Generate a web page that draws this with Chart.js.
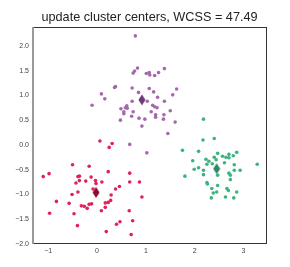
<!DOCTYPE html>
<html><head><meta charset="utf-8">
<script src="https://cdn.jsdelivr.net/npm/chart.js@4/dist/chart.umd.min.js"></script>
<style>html,body{margin:0;padding:0;background:#fff;}#wrap{width:290px;height:267px;}</style>
</head><body><div id="wrap"><canvas id="c" width="290" height="267"></canvas></div>
<script>
const titleText = "update cluster centers, WCSS = 47.49";
const xTicks = [-1, 0, 1, 2, 3];
const yTicks = [-2.0, -1.5, -1.0, -0.5, 0.0, 0.5, 1.0, 1.5, 2.0];

const purpleX = [0.785,0.83,0.77,0.74,1.01,1.07,1.08,1.18,1.26,1.38,0.38,0.36,0.72,1.07,1.63,0.09,0.16,0.85,1.16,1.55,1.24,-0.10,0.72,1.03,1.38,1.14,1.18,1.23,0.61,0.58,0.62,0.49,0.74,0.55,0.55,1.11,1.50,1.20,1.20,1.37,0.71,0.86,0.98,1.36,0.48,1.60,0.92,1.45,0.67,1.02];
const purpleY = [2.20,1.55,1.49,1.45,1.44,1.46,1.41,1.40,1.46,1.54,1.18,1.16,1.15,1.14,1.13,1.03,0.93,1.06,1.07,1.01,0.96,0.80,0.88,0.88,0.88,0.80,0.77,0.75,0.79,0.75,0.74,0.73,0.67,0.67,0.63,0.67,0.69,0.61,0.56,0.61,0.58,0.54,0.52,0.52,0.50,0.46,0.38,0.23,0.01,-0.16];

const redX = [0.06,0.31,0.25,-0.50,-0.16,-1.10,-0.98,-0.39,-0.36,-0.12,0.23,0.67,-0.36,-0.43,-0.23,-0.03,-0.02,0.10,0.67,0.87,0.46,0.38,-0.08,-0.39,-0.51,0.29,0.92,-0.83,-0.57,0.17,0.23,0.28,-0.16,-0.11,-0.32,-0.26,-0.20,0.17,0.09,0.66,-0.97,-0.47,0.73,0.47,0.40,-0.40,0.19,0.70];
const redY = [0.08,0.03,-0.05,-0.40,-0.43,-0.64,-0.58,-0.64,-0.63,-0.65,-0.54,-0.57,-0.72,-0.77,-0.73,-0.72,-0.78,-0.75,-0.75,-0.75,-0.84,-0.89,-0.89,-0.95,-1.00,-1.01,-1.05,-1.14,-1.18,-1.17,-1.16,-1.12,-1.20,-1.19,-1.23,-1.24,-1.28,-1.26,-1.33,-1.33,-1.38,-1.39,-1.53,-1.55,-1.60,-1.63,-1.75,-1.81];

const greenX = [2.17,2.40,1.75,2.08,2.47,2.86,2.70,2.79,2.57,2.64,2.70,2.40,2.23,2.29,2.44,1.96,2.36,2.25,2.61,2.81,3.28,2.08,1.99,2.18,2.81,2.93,2.18,2.47,2.70,2.73,1.80,2.73,2.25,2.26,2.47,2.35,2.66,2.69,2.86,2.38,2.45,2.63,2.34,2.80,2.18];
const greenY = [0.10,0.13,-0.11,-0.13,-0.17,-0.15,-0.19,-0.22,-0.23,-0.25,-0.26,-0.25,-0.29,-0.33,-0.30,-0.32,-0.38,-0.39,-0.36,-0.40,-0.39,-0.46,-0.49,-0.51,-0.51,-0.51,-0.60,-0.61,-0.57,-0.61,-0.63,-0.70,-0.76,-0.79,-0.82,-0.88,-0.88,-0.92,-0.95,-0.97,-0.95,-1.05,-1.07,-1.07,0.52];

const centerX = [0.92, -0.02, 2.45];
const centerY = [0.91, -0.96, -0.48];

const pointColors = ["#a767ae", "#e0225c", "#3bb47d"];
const centerColors = ["#6e3a78", "#8a0c30", "#2b8566"];

function pts(xs, ys){ return xs.map((x,i)=>({x:x, y:ys[i]})); }

function diamond(color){
  const c = document.createElement('canvas');
  c.width = 8; c.height = 12;
  const g = c.getContext('2d');
  g.fillStyle = color;
  g.beginPath();
  g.moveTo(4,0.5); g.lineTo(7.5,6); g.lineTo(4,11.5); g.lineTo(0.5,6); g.closePath();
  g.fill();
  return c;
}

const framePlugin = {
  id: 'frame',
  beforeDatasetsDraw(chart){
    const a = chart.chartArea, g = chart.ctx;
    g.save();
    g.strokeStyle = '#333'; g.lineWidth = 1;
    g.beginPath();
    g.moveTo(a.left, a.top+0.5); g.lineTo(a.right, a.top+0.5);
    g.moveTo(a.right-0.5, a.top); g.lineTo(a.right-0.5, a.bottom);
    g.moveTo(a.left, a.bottom-0.5); g.lineTo(a.right, a.bottom-0.5);
    g.stroke();
    g.strokeStyle = '#999'; g.lineWidth = 2;
    g.beginPath(); g.moveTo(a.left+1, a.top); g.lineTo(a.left+1, a.bottom); g.stroke();
    g.restore();
  }
};

const titlePlugin = {
  id: 'centeredTitle',
  afterDraw(chart){
    const a = chart.chartArea, g = chart.ctx;
    g.save();
    g.fillStyle = '#222';
    g.font = '12.7px "Liberation Sans", Arial, sans-serif';
    g.textAlign = 'center';
    g.textBaseline = 'alphabetic';
    g.fillText(titleText, (a.left + a.right) / 2, 20.5);
    g.restore();
  }
};

const fmtMinus = s => String(s).replace('-', '\u2212');

new Chart(document.getElementById('c'), {
  type: 'scatter',
  data: {
    datasets: [
      {data: pts(purpleX, purpleY), backgroundColor: pointColors[0], pointRadius: 1.8, borderWidth: 0},
      {data: pts(redX, redY), backgroundColor: pointColors[1], pointRadius: 1.8, borderWidth: 0},
      {data: pts(greenX, greenY), backgroundColor: pointColors[2], pointRadius: 1.8, borderWidth: 0},
      {data: [{x:centerX[0], y:centerY[0]}], pointStyle: diamond(centerColors[0])},
      {data: [{x:centerX[1], y:centerY[1]}], pointStyle: diamond(centerColors[1])},
      {data: [{x:centerX[2], y:centerY[2]}], pointStyle: diamond(centerColors[2])}
    ]
  },
  options: {
    responsive: false,
    animation: false,
    events: [],
    layout: {padding: {left: 0, right: 23, top: 27, bottom: 0}},
    plugins: {
      legend: {display: false},
      tooltip: {enabled: false},
      title: {display: false}
    },
    scales: {
      x: {
        type: 'linear', min: -1.33, max: 3.48,
        grid: {display: false, drawTicks: false}, border: {display: false},
        afterBuildTicks: s => { s.ticks = xTicks.map(v => ({value: v})); },
        afterFit: s => { s.height = 23; },
        ticks: {padding: 3, color: '#444', font: {family: 'Liberation Sans, Arial, sans-serif', size: 7},
          callback: v => fmtMinus(v)}
      },
      y: {
        type: 'linear', min: -2.0, max: 2.38,
        grid: {display: false, drawTicks: false}, border: {display: false},
        afterBuildTicks: s => { s.ticks = yTicks.map(v => ({value: v})); },
        afterFit: s => { s.width = 32; },
        ticks: {padding: 3, color: '#444', font: {family: 'Liberation Sans, Arial, sans-serif', size: 7},
          callback: v => fmtMinus(Number(v).toFixed(1))}
      }
    }
  },
  plugins: [framePlugin, titlePlugin]
});
</script>
</body></html>
